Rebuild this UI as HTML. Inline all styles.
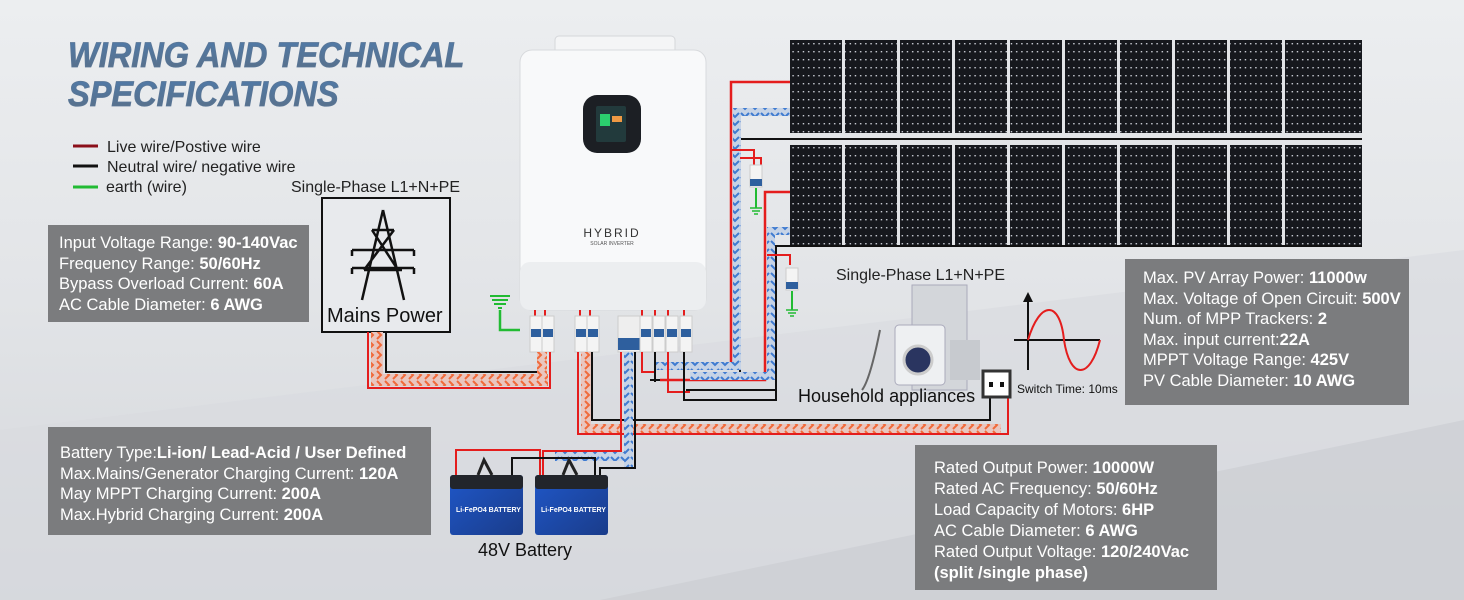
<!DOCTYPE html>
<html><head><meta charset="utf-8"><style>
body{margin:0;width:1464px;height:600px;overflow:hidden;font-family:"Liberation Sans",sans-serif}
svg{display:block}
.t{font-family:"Liberation Sans",sans-serif;font-size:16px;fill:#222}
.w{font-family:"Liberation Sans",sans-serif;font-size:16.5px;fill:#fff}
.w tspan.b{font-weight:bold}
</style></head><body>
<svg width="1464" height="600" viewBox="0 0 1464 600" xmlns="http://www.w3.org/2000/svg">
<defs>
<linearGradient id="bg" x1="0" y1="0" x2="0" y2="1">
<stop offset="0" stop-color="#eceef0"/><stop offset="0.5" stop-color="#e2e4e7"/><stop offset="1" stop-color="#d3d6da"/></linearGradient>
<linearGradient id="tt" x1="0" y1="0" x2="0" y2="1"><stop offset="0" stop-color="#4f7bab"/><stop offset="1" stop-color="#5a6f86"/></linearGradient>
<linearGradient id="bat" x1="0" y1="0" x2="1" y2="1"><stop offset="0" stop-color="#1f57c8"/><stop offset="1" stop-color="#1a3c8a"/></linearGradient>
<pattern id="pv" width="5.2" height="8" patternUnits="userSpaceOnUse"><rect width="5.2" height="8" fill="#16181d"/><rect x="2" y="3" width="1.4" height="1.4" fill="#cfd3da"/></pattern>
<pattern id="or" width="8" height="10" patternUnits="userSpaceOnUse"><rect width="8" height="10" fill="#e9c6bf"/><path d="M1 1 L5 5 L1 9" stroke="#f06a3a" stroke-width="2" fill="none"/></pattern>
<pattern id="bl" width="10" height="8" patternUnits="userSpaceOnUse"><rect width="10" height="8" fill="#c6d3e6"/><path d="M1 1 L5 5 L9 1" stroke="#3f7bd0" stroke-width="2" fill="none"/></pattern>
<g id="brk"><rect x="0" y="0" width="12" height="36" fill="#f4f4f4" stroke="#ccc"/><rect x="1" y="13" width="10" height="8" fill="#2e5f9e"/></g>
<g id="spd"><rect x="0" y="0" width="12" height="22" fill="#f4f4f4" stroke="#ccc"/><rect x="0" y="14" width="12" height="7" fill="#2e5f9e"/></g>
</defs>
<rect width="1464" height="600" fill="url(#bg)"/>
<path d="M0 430 L1464 250 L1464 600 L0 600Z" fill="#d8dbdf" opacity="0.6"/>
<path d="M600 600 L1464 420 L1464 600Z" fill="#c9ccd1" opacity="0.6"/>

<!-- title -->
<g transform="translate(68,67) scale(0.93,1)"><text x="0" y="0" font-family="Liberation Sans" font-weight="bold" font-style="italic" font-size="35" fill="url(#tt)" stroke="#5a7696" stroke-width="0.8">WIRING AND TECHNICAL</text></g>
<g transform="translate(68,106) scale(0.93,1)"><text x="0" y="0" font-family="Liberation Sans" font-weight="bold" font-style="italic" font-size="35" fill="url(#tt)" stroke="#5a7696" stroke-width="0.8">SPECIFICATIONS</text></g>

<!-- legend -->
<line x1="73" y1="146" x2="98" y2="146" stroke="#8b0f1a" stroke-width="3"/>
<line x1="73" y1="166" x2="98" y2="166" stroke="#111" stroke-width="3"/>
<line x1="73" y1="187" x2="98" y2="187" stroke="#22bb33" stroke-width="3"/>
<text class="t" x="107" y="152">Live wire/Postive wire</text>
<text class="t" x="107" y="172">Neutral wire/ negative wire</text>
<text class="t" x="106" y="192">earth (wire)</text>
<text class="t" x="291" y="192">Single-Phase L1+N+PE</text>

<!-- mains box -->
<rect x="322" y="198" width="128" height="134" fill="#e8eaed" stroke="#111" stroke-width="2"/>
<g stroke="#111" stroke-width="2.5" fill="none">
<path d="M383 210 L362 300 M383 210 L404 300 M372 230 L394 230 M368 250 L398 250 M364 270 L402 270 M372 230 L398 270 M394 230 L364 270 M352 250 L414 250 M352 268 L414 268 M352 250 L352 256 M414 250 L414 256 M352 268 L352 274 M414 268 L414 274"/>
</g>
<text x="327" y="322" font-family="Liberation Sans" font-size="20" fill="#111">Mains Power</text>

<!-- spec box 1 -->
<rect x="48" y="225" width="261" height="97" fill="#7b7c7e"/>
<text class="w" x="59" y="248">Input Voltage Range: <tspan class="b">90-140Vac</tspan></text>
<text class="w" x="59" y="269">Frequency Range: <tspan class="b">50/60Hz</tspan></text>
<text class="w" x="59" y="289">Bypass Overload Current: <tspan class="b">60A</tspan></text>
<text class="w" x="59" y="310">AC Cable Diameter: <tspan class="b">6 AWG</tspan></text>

<!-- solar panels -->
<g>
<rect x="790" y="40" width="572" height="93" fill="url(#pv)"/>
<rect x="790" y="145" width="572" height="100" fill="url(#pv)"/>
<g fill="#e2e4e7">
<rect x="842" y="40" width="3" height="205"/><rect x="897" y="40" width="3" height="205"/><rect x="952" y="40" width="3" height="205"/><rect x="1007" y="40" width="3" height="205"/><rect x="1062" y="40" width="3" height="205"/><rect x="1117" y="40" width="3" height="205"/><rect x="1172" y="40" width="3" height="205"/><rect x="1227" y="40" width="3" height="205"/><rect x="1282" y="40" width="3" height="205"/><rect x="790" y="133" width="572" height="12"/>
</g>
</g>
<!-- PV wiring -->
<path d="M790 82 L731 82 L731 370" stroke="#e41d1d" stroke-width="2.5" fill="none"/>
<path d="M1362 139 L740 139 L740 380 L650 380" stroke="#111" stroke-width="2" fill="none"/>
<rect x="733" y="108" width="8" height="262" fill="url(#bl)"/>
<rect x="733" y="108" width="57" height="8" fill="url(#bl)"/>
<path d="M790 192 L765 192 L765 380 L660 380" stroke="#e41d1d" stroke-width="2.5" fill="none"/>
<path d="M1362 246 L776 246 L776 390 L686 390" stroke="#111" stroke-width="2" fill="none"/>
<rect x="767" y="230" width="8" height="150" fill="url(#bl)"/>
<rect x="767" y="227" width="23" height="8" fill="url(#bl)"/>
<rect x="656" y="362" width="84" height="8" fill="url(#bl)"/>
<rect x="690" y="372" width="85" height="8" fill="url(#bl)"/>
<!-- small PV breakers -->
<path d="M731 150 L754 150 L754 165 M740 158 L761 158 L761 165" stroke="#e41d1d" stroke-width="2" fill="none"/>
<use href="#spd" x="750" y="165"/><path d="M756 188 L756 208" stroke="#22bb33" stroke-width="2"/><path d="M750 208 L762 208 M752 211 L760 211 M754 214 L758 214" stroke="#22bb33" stroke-width="1.5"/>
<path d="M767 255 L790 255 L790 265" stroke="#e41d1d" stroke-width="2" fill="none"/>
<use href="#spd" x="786" y="268"/><path d="M792 291 L792 310" stroke="#22bb33" stroke-width="2"/><path d="M786 310 L798 310 M788 313 L796 313 M790 316 L794 316" stroke="#22bb33" stroke-width="1.5"/>

<!-- inverter -->
<rect x="555" y="36" width="120" height="22" rx="4" fill="#f4f5f6" stroke="#d5d7da"/>
<rect x="520" y="50" width="186" height="260" rx="12" fill="#f8f9fa" stroke="#d8dadd"/>
<rect x="520" y="262" width="186" height="48" rx="10" fill="#eceef0"/>
<rect x="583" y="95" width="58" height="58" rx="14" fill="#1c1f24"/>
<rect x="596" y="106" width="30" height="36" rx="2" fill="#223a3c"/>
<rect x="600" y="114" width="10" height="12" fill="#2bcf6e"/><rect x="612" y="116" width="10" height="6" fill="#e94"/>
<text x="612" y="237" text-anchor="middle" font-family="Liberation Sans" font-size="12" letter-spacing="2" fill="#333">HYBRID</text>
<text x="612" y="245" text-anchor="middle" font-family="Liberation Sans" font-size="5" fill="#555">SOLAR INVERTER</text>
<!-- earth at inverter -->
<path d="M500 310 L500 330 L520 330" stroke="#22bb33" stroke-width="2.5" fill="none"/>
<path d="M490 296 L510 296 M492 300 L508 300 M494 304 L506 304 M498 308 L502 308" stroke="#22bb33" stroke-width="2"/>

<!-- breakers -->
<path d="M535 310 L535 318 M545 310 L545 318 M580 310 L580 318 M590 310 L590 318 M642 310 L642 318 M655 310 L655 318 M668 310 L668 318 M684 310 L684 318" stroke="#e41d1d" stroke-width="2"/>
<use href="#brk" x="530" y="316"/><use href="#brk" x="542" y="316"/>
<use href="#brk" x="575" y="316"/><use href="#brk" x="587" y="316"/>
<rect x="618" y="316" width="22" height="36" fill="#eee" stroke="#ccc"/><rect x="618" y="338" width="22" height="12" fill="#2e5f9e"/>
<use href="#brk" x="640" y="316"/><use href="#brk" x="653" y="316"/><use href="#brk" x="666" y="316"/><use href="#brk" x="680" y="316"/>

<!-- mains cable -->
<rect x="371" y="332" width="12" height="52" fill="url(#or)"/>
<rect x="371" y="374" width="177" height="12" fill="url(#or)"/>
<path d="M368 332 L368 388 L550 388 L550 352" stroke="#e41d1d" stroke-width="2" fill="none"/>
<path d="M386 332 L386 372 L545 372 L545 352" stroke="#111" stroke-width="2" fill="none"/>
<rect x="537" y="352" width="10" height="26" fill="url(#or)"/>

<!-- load cable -->
<rect x="581" y="352" width="10" height="80" fill="url(#or)"/>
<rect x="581" y="424" width="420" height="10" fill="url(#or)"/>
<path d="M578 352 L578 434 L1008 434 L1008 394" stroke="#e41d1d" stroke-width="2" fill="none"/>
<path d="M592 352 L592 420 L990 420 L990 394" stroke="#111" stroke-width="2" fill="none"/>

<!-- battery cable -->
<rect x="624" y="352" width="9" height="116" fill="url(#bl)"/>
<rect x="555" y="452" width="75" height="9" fill="url(#bl)"/>
<path d="M621 352 L621 451 L543 451 L543 482" stroke="#e41d1d" stroke-width="2" fill="none"/>
<path d="M635 352 L635 468 L600 468 L600 478" stroke="#111" stroke-width="2" fill="none"/>
<path d="M456 478 L456 450 L540 450 L540 478" stroke="#e41d1d" stroke-width="2" fill="none"/>
<path d="M512 478 L512 458 L595 458 L595 478" stroke="#111" stroke-width="2" fill="none"/>

<!-- PV output lines to breakers -->
<path d="M642 352 L642 372 L656 372 M668 352 L668 392 L690 392" stroke="#e41d1d" stroke-width="2" fill="none"/>
<path d="M655 352 L655 382 M684 352 L684 400 L776 400 L776 390" stroke="#111" stroke-width="2" fill="none"/>

<!-- batteries -->
<g>
<rect x="450" y="475" width="73" height="60" rx="3" fill="url(#bat)"/><rect x="450" y="475" width="73" height="14" rx="3" fill="#22252b"/>
<text x="456" y="512" font-family="Liberation Sans" font-size="7" font-weight="bold" fill="#fff">Li-FePO4 BATTERY</text>
<path d="M478 475 L484 460 L492 475" stroke="#222" stroke-width="3" fill="none"/>
<rect x="535" y="475" width="73" height="60" rx="3" fill="url(#bat)"/><rect x="535" y="475" width="73" height="14" rx="3" fill="#22252b"/>
<text x="541" y="512" font-family="Liberation Sans" font-size="7" font-weight="bold" fill="#fff">Li-FePO4 BATTERY</text>
<path d="M563 475 L569 460 L577 475" stroke="#222" stroke-width="3" fill="none"/>
</g>
<text x="478" y="556" font-family="Liberation Sans" font-size="18" fill="#111">48V Battery</text>

<!-- spec box battery -->
<rect x="48" y="427" width="383" height="108" fill="#7b7c7e"/>
<text class="w" x="60" y="458">Battery Type:<tspan class="b">Li-ion/ Lead-Acid / User Defined</tspan></text>
<text class="w" x="60" y="479">Max.Mains/Generator Charging Current: <tspan class="b">120A</tspan></text>
<text class="w" x="60" y="499">May MPPT Charging Current: <tspan class="b">200A</tspan></text>
<text class="w" x="60" y="520">Max.Hybrid Charging Current: <tspan class="b">200A</tspan></text>

<!-- appliances -->
<text class="t" x="836" y="280">Single-Phase L1+N+PE</text>
<rect x="912" y="285" width="55" height="105" fill="#d3d6da" stroke="#aab" />
<rect x="895" y="325" width="50" height="60" rx="4" fill="#eef0f2" stroke="#aab"/>
<circle cx="918" cy="360" r="14" fill="#2a3560" stroke="#ccc" stroke-width="3"/>
<rect x="950" y="340" width="30" height="40" fill="#c7cacf"/>
<path d="M880 330 Q870 380 862 390" stroke="#666" stroke-width="2" fill="none"/>
<text x="798" y="402" font-family="Liberation Sans" font-size="18" fill="#111">Household appliances</text>
<rect x="983" y="371" width="27" height="26" fill="#fff" stroke="#333" stroke-width="3"/>
<rect x="989" y="382" width="4" height="5" fill="#111"/><rect x="1000" y="382" width="4" height="5" fill="#111"/>
<text x="1017" y="393" font-family="Liberation Sans" font-size="12" fill="#111">Switch Time: 10ms</text>
<!-- sine -->
<path d="M1028 370 L1028 298" stroke="#111" stroke-width="2"/><path d="M1023 302 L1028 292 L1033 302Z" fill="#111"/>
<path d="M1014 340 L1100 340" stroke="#111" stroke-width="2"/>
<path d="M1028 340 C1040 300 1060 300 1064 340 C1070 380 1090 380 1100 340" stroke="#e41d1d" stroke-width="2" fill="none"/>

<!-- spec box PV -->
<rect x="1125" y="259" width="284" height="146" fill="#7b7c7e"/>
<text class="w" x="1143" y="283">Max.   PV Array Power: <tspan class="b">11000w</tspan></text>
<text class="w" x="1143" y="304">Max. Voltage of Open Circuit: <tspan class="b">500V</tspan></text>
<text class="w" x="1143" y="324">Num. of MPP Trackers: <tspan class="b">2</tspan></text>
<text class="w" x="1143" y="345">Max.    input current:<tspan class="b">22A</tspan></text>
<text class="w" x="1143" y="365">MPPT Voltage Range: <tspan class="b">425V</tspan></text>
<text class="w" x="1143" y="386">PV Cable Diameter: <tspan class="b">10 AWG</tspan></text>

<!-- spec box output -->
<rect x="915" y="445" width="302" height="145" fill="#7b7c7e"/>
<text class="w" x="934" y="473">Rated Output Power: <tspan class="b">10000W</tspan></text>
<text class="w" x="934" y="494">Rated AC Frequency: <tspan class="b">50/60Hz</tspan></text>
<text class="w" x="934" y="515">Load Capacity of Motors: <tspan class="b">6HP</tspan></text>
<text class="w" x="934" y="536">AC Cable Diameter: <tspan class="b">6 AWG</tspan></text>
<text class="w" x="934" y="557">Rated Output Voltage: <tspan class="b">120/240Vac</tspan></text>
<text class="w" x="934" y="578"><tspan class="b">(split /single phase)</tspan></text>
</svg>
</body></html>
